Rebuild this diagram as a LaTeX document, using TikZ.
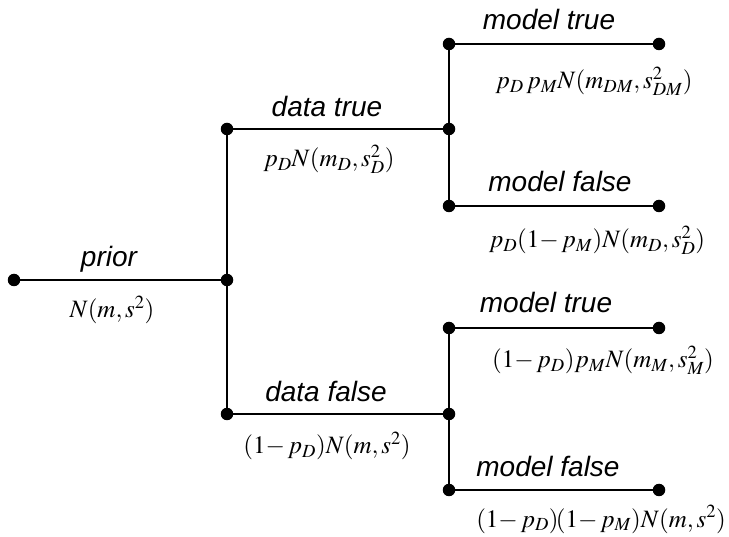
\documentclass[tikz,border=0pt]{standalone}
\usepackage{mathptmx}
\usepackage[no-math]{fontspec}
\setmainfont{Liberation Sans}
\newcommand{\mneg}{\mathord{-}\,}
\begin{document}
\begin{tikzpicture}[x=1pt,y=-1pt,
  dot/.style={circle,fill=black,inner sep=0pt,minimum size=12.5pt},
  wire/.style={line width=2.7pt},
  lbl/.style={anchor=base,inner sep=0pt,font=\fontsize{28}{30}\selectfont\itshape},
  frm/.style={anchor=base,inner sep=0pt,font=\fontsize{25}{27}\selectfont}]
\useasboundingbox (0,0) rectangle (729,537);
% dots
\node[dot] (p0) at (14,280) {};
\node[dot] (p1) at (227,280) {};
\node[dot] (dt0) at (227,129) {};
\node[dot] (dt1) at (449,129) {};
\node[dot] (df0) at (227,414) {};
\node[dot] (df1) at (449,414) {};
\node[dot] (mt0) at (449,44) {};
\node[dot] (mt1) at (659,44) {};
\node[dot] (mf0) at (449,206) {};
\node[dot] (mf1) at (659,206) {};
\node[dot] (nt0) at (449,328) {};
\node[dot] (nt1) at (659,328) {};
\node[dot] (nf0) at (449,490) {};
\node[dot] (nf1) at (659,490) {};
% wires
\draw[wire] (p0.center) -- (p1.center);
\draw[wire] (dt0.center) -- (df0.center);
\draw[wire] (dt0.center) -- (dt1.center);
\draw[wire] (df0.center) -- (df1.center);
\draw[wire] (mt0.center) -- (mf0.center);
\draw[wire] (nt0.center) -- (nf0.center);
\draw[wire] (mt0.center) -- (mt1.center);
\draw[wire] (mf0.center) -- (mf1.center);
\draw[wire] (nt0.center) -- (nt1.center);
\draw[wire] (nf0.center) -- (nf1.center);
% labels
\node[lbl] (lp) at (109,267) {prior};
\node[frm] (fp) at (112,318) {$N(m,s^2)$};
\node[lbl] (ldt) at (327,117) {data true};
\node[frm] (fdt) at (329,167) {$p_D N(m_D,s_D^2)$};
\node[lbl] (ldf) at (326,402) {data false};
\node[frm] (fdf) at (327,454) {$(1\mneg p_D)N(m,s^2)$};
\node[lbl] (lmt) at (549,30) {model true};
\node[frm] (fmt) at (594,89) {$p_D\,p_M N(m_{DM},s_{DM}^2)$};
\node[lbl] (lmf) at (560,192) {model false};
\node[frm] (fmf) at (597,248) {$p_D(1\mneg p_M)N(m_D,s_D^2)$};
\node[lbl] (lnt) at (546,313) {model true};
\node[frm] (fnt) at (603,368) {$(1\mneg p_D)p_M N(m_M,s_M^2)$};
\node[lbl] (lnf) at (548,477) {model false};
\node[frm] (fnf) at (601,527) {$(1\mneg p_D)\!(1\mneg p_M)N(m,s^2)$};
\end{tikzpicture}
\end{document}
